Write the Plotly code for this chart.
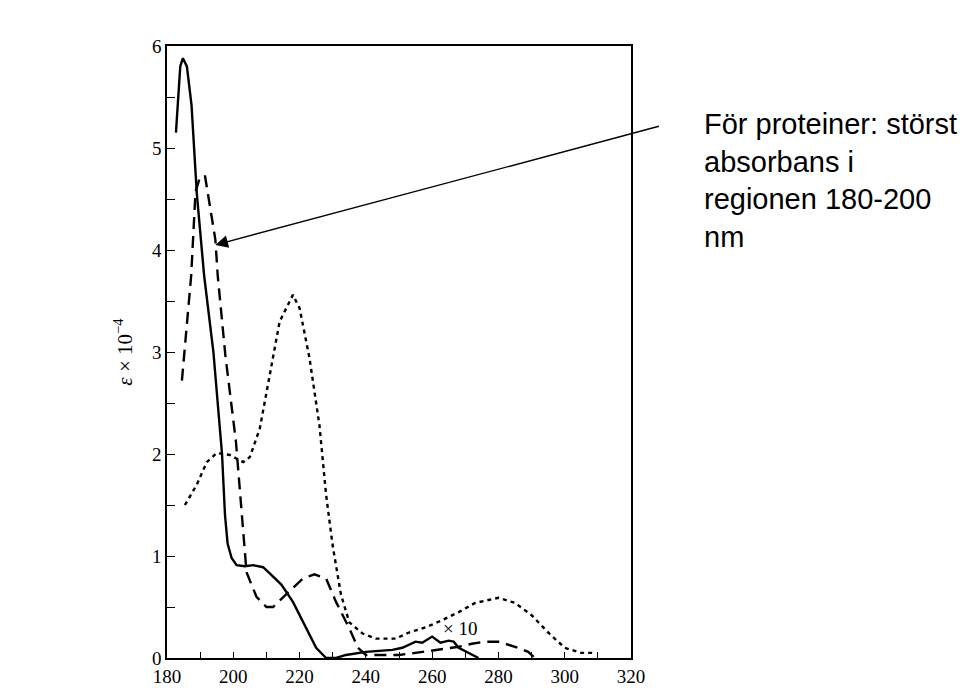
import plotly.graph_objects as go

# Solid curve (wavelength nm, epsilon x 10^-4)
solid_x = [182.7, 184.0, 184.8, 186.0, 187.4, 189.0, 191.2, 194.0, 196.6, 197.5, 198.3, 199.5, 201.0, 203.5, 206.0, 209.0, 211.0, 214.5, 218.0, 222.0, 225.0, 228.0, 231.0, 234.0, 240.0, 248.0, 251.0, 255.0, 257.0, 260.0, 262.5, 265.0, 266.5, 268.0, 271.0, 274.0]
solid_y = [5.15, 5.80, 5.88, 5.80, 5.42, 4.55, 3.75, 3.00, 2.00, 1.40, 1.12, 0.98, 0.91, 0.90, 0.91, 0.89, 0.83, 0.72, 0.55, 0.29, 0.10, 0.00, 0.00, 0.03, 0.06, 0.08, 0.10, 0.16, 0.15, 0.21, 0.15, 0.17, 0.16, 0.10, 0.05, 0.00]

# Dashed curve
dash_x = [184.5, 187.3, 188.6, 190.0, 191.5, 194.6, 195.3, 197.6, 200.8, 202.8, 204.0, 207.0, 210.0, 212.0, 216.0, 221.0, 224.5, 228.0, 231.0, 235.0, 237.6, 240.0, 243.0, 250.0, 255.0, 259.0, 263.0, 268.0, 272.0, 276.0, 280.0, 285.0, 289.0, 291.0]
dash_y = [2.72, 3.75, 4.57, 4.72, 4.72, 4.10, 3.75, 2.97, 2.12, 1.33, 0.84, 0.60, 0.50, 0.50, 0.62, 0.78, 0.82, 0.78, 0.55, 0.29, 0.10, 0.03, 0.03, 0.03, 0.05, 0.07, 0.09, 0.11, 0.14, 0.16, 0.16, 0.11, 0.06, 0.00]

# Dotted curve
dot_x = [185.4, 189.0, 192.0, 195.0, 197.0, 199.0, 203.0, 205.0, 208.0, 211.0, 214.0, 218.0, 220.0, 223.0, 226.0, 228.0, 230.0, 232.5, 235.0, 239.0, 243.0, 249.0, 253.0, 258.0, 263.0, 268.0, 273.0, 280.0, 285.0, 290.0, 295.0, 300.0, 305.0, 309.0]
dot_y = [1.50, 1.70, 1.92, 2.01, 2.00, 1.99, 1.92, 1.97, 2.25, 2.77, 3.30, 3.56, 3.43, 2.94, 2.28, 1.60, 1.10, 0.62, 0.35, 0.24, 0.19, 0.19, 0.25, 0.30, 0.37, 0.45, 0.54, 0.59, 0.54, 0.42, 0.25, 0.10, 0.05, 0.05]

x_ticks = [180, 200, 220, 240, 260, 280, 300, 320]
y_ticks = [0, 1, 2, 3, 4, 5, 6]

note_lines = ["För proteiner: störst", "absorbans i", "regionen 180-200", "nm"]

fig = go.Figure()
fig.add_trace(go.Scatter(x=solid_x, y=solid_y, mode="lines",
                         line=dict(color="black", width=2.4), showlegend=False))
fig.add_trace(go.Scatter(x=dash_x, y=dash_y, mode="lines",
                         line=dict(color="black", width=2.4, dash="12px,7px"), showlegend=False))
fig.add_trace(go.Scatter(x=dot_x, y=dot_y, mode="lines",
                         line=dict(color="black", width=2.4, dash="4px,4px"), showlegend=False))

serif = "Liberation Serif, Times New Roman, serif"

fig.update_layout(
    width=960, height=699,
    margin=dict(l=167, r=329, t=46, b=36),
    paper_bgcolor="white", plot_bgcolor="white",
    font=dict(family=serif, size=19, color="black"),
    xaxis=dict(range=[180, 320], tickvals=x_ticks, ticktext=[str(v) for v in x_ticks],
               ticks="inside", ticklen=6, tickwidth=1.2, tickcolor="black",
               minor=dict(dtick=10, tick0=180, ticks="inside", ticklen=6, tickwidth=1.2, tickcolor="black"),
               showline=True, linecolor="black", linewidth=1.5, mirror=True,
               showgrid=False, zeroline=False, tickfont=dict(family=serif, size=19)),
    yaxis=dict(range=[0, 6], tickvals=y_ticks, ticktext=[str(v) for v in y_ticks],
               ticks="inside", ticklen=8, tickwidth=1.2, tickcolor="black",
               minor=dict(dtick=0.5, tick0=0, ticks="inside", ticklen=8, tickwidth=1.2, tickcolor="black"),
               showline=True, linecolor="black", linewidth=1.5, mirror=True,
               showgrid=False, zeroline=False, tickfont=dict(family=serif, size=19),
               title=dict(text="<i>ε</i> × 10<sup>−4</sup>", font=dict(family=serif, size=21), standoff=14)),
)

fig.add_annotation(x=268.5, y=0.29, text="× 10", showarrow=False,
                   font=dict(family=serif, size=19, color="black"))

fig.add_annotation(x=194.6, y=4.05, xref="x", yref="y", text="", showarrow=True,
                   ax=445, ay=-119, arrowhead=2, arrowsize=1.8, arrowwidth=1.4, arrowcolor="black")

fig.add_annotation(xref="paper", yref="paper", x=1.153, y=0.78, xanchor="left", yanchor="middle",
                   text="<br>".join(note_lines), align="left", showarrow=False,
                   font=dict(family="Liberation Sans, Arial, sans-serif", size=29, color="black"))

fig.write_html("out.html")
